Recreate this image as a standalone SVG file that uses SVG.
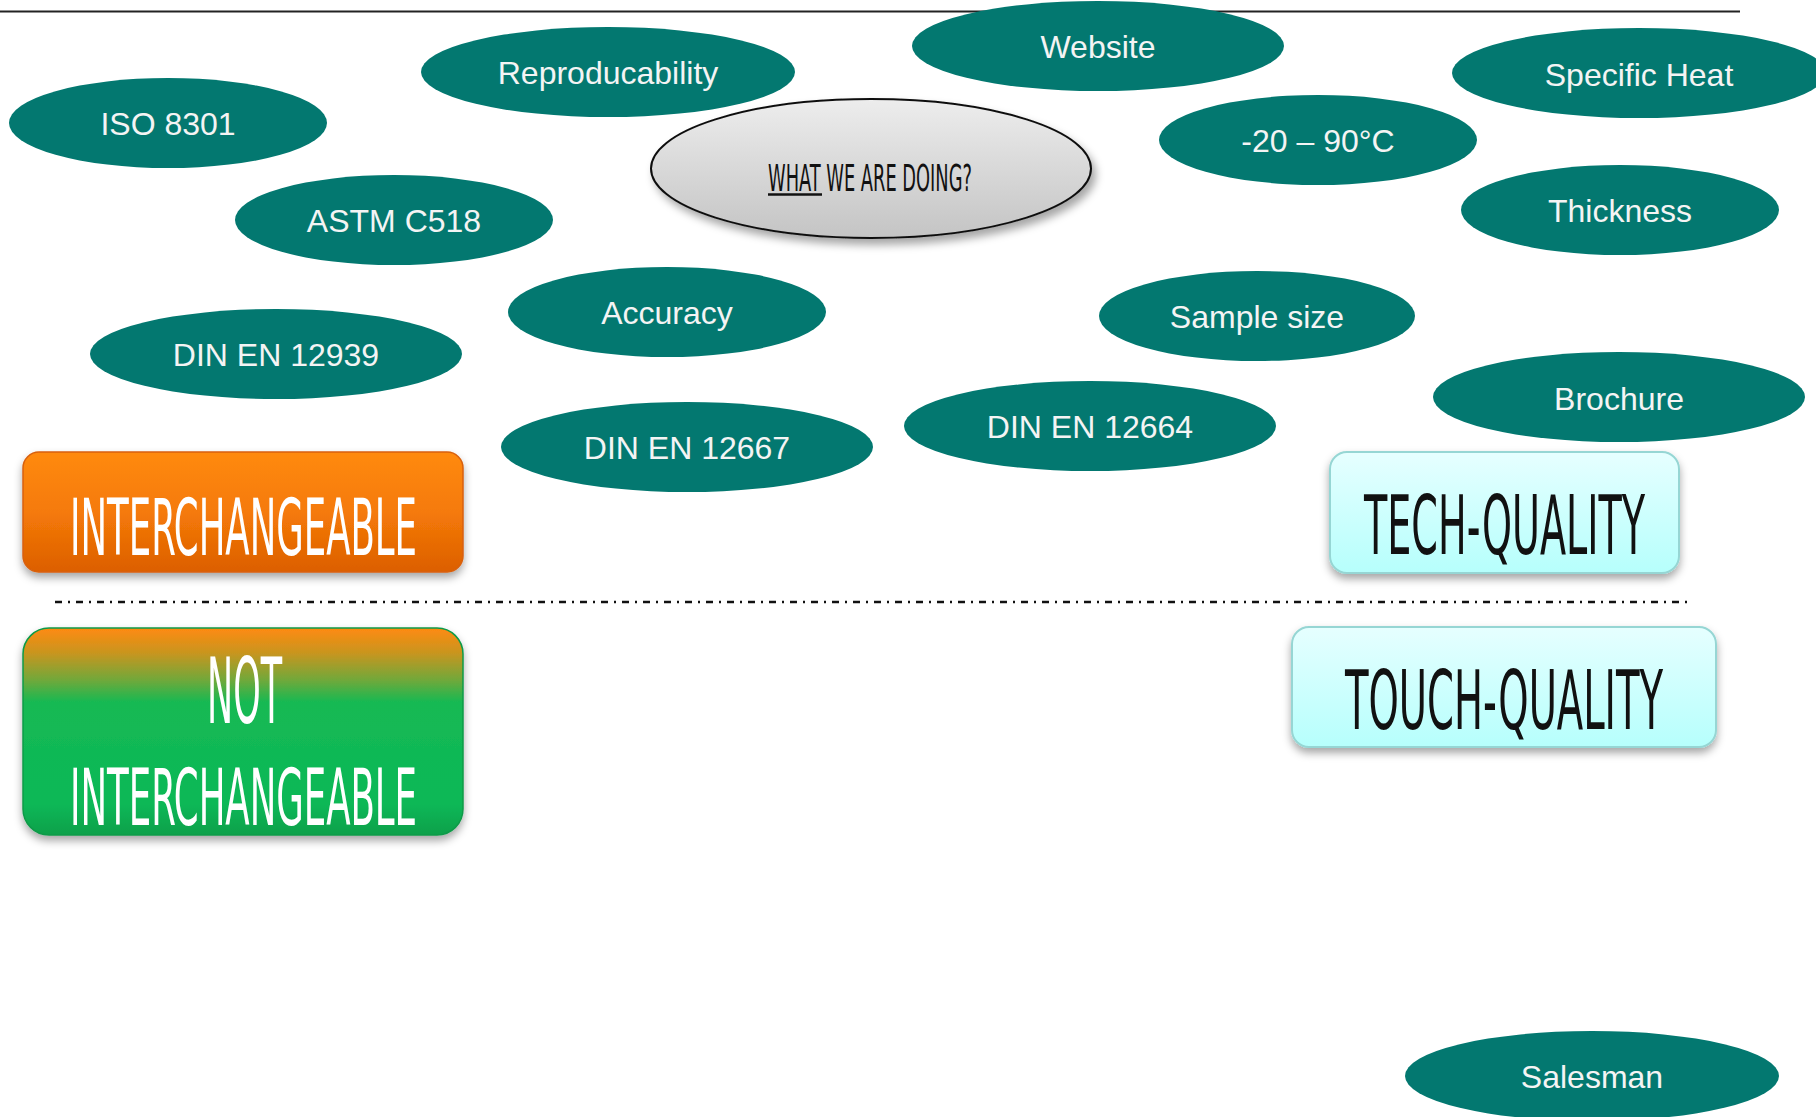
<svg xmlns="http://www.w3.org/2000/svg" width="1816" height="1117" viewBox="0 0 1816 1117">
  <style>
    .topic { fill: #037870; }
    .topic-label { font-family: "Liberation Sans", Arial, sans-serif; font-size: 32px; fill: #F4F4F4; text-anchor: middle; }
    .hand { font-family: "Liberation Sans Narrow", "DejaVu Sans Condensed", "Liberation Sans", sans-serif; }
    .hand-white { fill: #FFFFFF; }
    .hand-black { fill: #111111; }
    .centered { text-anchor: middle; }
    .rule { stroke: #222222; stroke-width: 2; fill: none; }
    .divider { stroke: #111111; stroke-width: 2.5; fill: none; stroke-dasharray: 7 6 2 6; }
  </style>
  <defs>
    <linearGradient id="gOrange" x1="0" y1="0" x2="0" y2="1">
      <stop offset="0" stop-color="#FF8A10"/>
      <stop offset="0.5" stop-color="#F57A08"/>
      <stop offset="1" stop-color="#DC5F02"/>
    </linearGradient>
    <linearGradient id="gGreen" x1="0" y1="0" x2="0" y2="1">
      <stop offset="0" stop-color="#FF8A10"/>
      <stop offset="0.12" stop-color="#C9951F"/>
      <stop offset="0.25" stop-color="#72A83A"/>
      <stop offset="0.36" stop-color="#15B953"/>
      <stop offset="0.85" stop-color="#0CB857"/>
      <stop offset="1" stop-color="#0AA04A"/>
    </linearGradient>
    <linearGradient id="gCyan" x1="0" y1="0" x2="0" y2="1">
      <stop offset="0" stop-color="#E6FFFF"/>
      <stop offset="1" stop-color="#B6FFFC"/>
    </linearGradient>
    <linearGradient id="gGrey" x1="0" y1="0" x2="0" y2="1">
      <stop offset="0" stop-color="#EDEDED"/>
      <stop offset="1" stop-color="#C4C4C4"/>
    </linearGradient>
    <filter id="boxShadow" x="-10%" y="-20%" width="120%" height="150%">
      <feDropShadow dx="0" dy="5" stdDeviation="4" flood-color="#000000" flood-opacity="0.35"/>
    </filter>
    <filter id="ovalShadow" x="-10%" y="-20%" width="125%" height="150%">
      <feDropShadow dx="4" dy="6" stdDeviation="4" flood-color="#000000" flood-opacity="0.35"/>
    </filter>
  </defs>

  <!-- header rule and section divider -->
  <line class="rule" x1="0" y1="11.5" x2="1740" y2="11.5"/>
  <line class="divider" x1="55" y1="602" x2="1690" y2="602"/>

  <!-- teal topic ovals -->
  <g id="iso8301"><ellipse class="topic" cx="168" cy="123" rx="159" ry="45"/><text class="topic-label" x="168" y="135">ISO 8301</text></g>
  <g id="reproducability"><ellipse class="topic" cx="608" cy="72" rx="187" ry="45"/><text class="topic-label" x="608" y="84">Reproducability</text></g>
  <g id="astm-c518"><ellipse class="topic" cx="394" cy="220" rx="159" ry="45"/><text class="topic-label" x="394" y="232">ASTM C518</text></g>
  <g id="website"><ellipse class="topic" cx="1098" cy="46" rx="186" ry="45"/><text class="topic-label" x="1098" y="58">Website</text></g>
  <g id="specific-heat"><ellipse class="topic" cx="1639" cy="73" rx="187" ry="45"/><text class="topic-label" x="1639" y="86">Specific Heat</text></g>
  <g id="temp-range"><ellipse class="topic" cx="1318" cy="140" rx="159" ry="45"/><text class="topic-label" x="1318" y="152">-20 – 90°C</text></g>
  <g id="thickness"><ellipse class="topic" cx="1620" cy="210" rx="159" ry="45"/><text class="topic-label" x="1620" y="222">Thickness</text></g>
  <g id="accuracy"><ellipse class="topic" cx="667" cy="312" rx="159" ry="45"/><text class="topic-label" x="667" y="324">Accuracy</text></g>
  <g id="sample-size"><ellipse class="topic" cx="1257" cy="316" rx="158" ry="45"/><text class="topic-label" x="1257" y="328">Sample size</text></g>
  <g id="din-en-12939"><ellipse class="topic" cx="276" cy="354" rx="186" ry="45"/><text class="topic-label" x="276" y="366">DIN EN 12939</text></g>
  <g id="din-en-12667"><ellipse class="topic" cx="687" cy="447" rx="186" ry="45"/><text class="topic-label" x="687" y="459">DIN EN 12667</text></g>
  <g id="din-en-12664"><ellipse class="topic" cx="1090" cy="426" rx="186" ry="45"/><text class="topic-label" x="1090" y="438">DIN EN 12664</text></g>
  <g id="brochure"><ellipse class="topic" cx="1619" cy="397" rx="186" ry="45"/><text class="topic-label" x="1619" y="410">Brochure</text></g>
  <g id="salesman"><ellipse class="topic" cx="1592" cy="1076" rx="187" ry="45"/><text class="topic-label" x="1592" y="1088">Salesman</text></g>

  <!-- central question -->
  <g id="what-we-are-doing">
    <ellipse cx="871" cy="168.5" rx="220" ry="69.5" fill="url(#gGrey)" stroke="#111111" stroke-width="2" filter="url(#ovalShadow)"/>
    <text class="hand hand-black" x="768" y="191" font-size="38" textLength="204" lengthAdjust="spacingAndGlyphs">WHAT WE ARE DOING?</text>
    <line x1="768" y1="194.5" x2="822" y2="194.5" stroke="#111111" stroke-width="2.5"/>
  </g>

  <!-- category boxes -->
  <g id="interchangeable">
    <rect x="23" y="452" width="440" height="120" rx="16" fill="url(#gOrange)" stroke="#D8600A" stroke-width="1.5" filter="url(#boxShadow)"/>
    <text class="hand hand-white" x="70" y="555" font-size="78" textLength="347" lengthAdjust="spacingAndGlyphs">INTERCHANGEABLE</text>
  </g>
  <g id="not-interchangeable">
    <rect x="23" y="628" width="440" height="207" rx="26" fill="url(#gGreen)" stroke="#0E9A48" stroke-width="1.5" filter="url(#boxShadow)"/>
    <text class="hand hand-white" x="207" y="723" textLength="75" lengthAdjust="spacingAndGlyphs" font-size="90">NOT</text>
    <text class="hand hand-white" x="70" y="825" font-size="79" textLength="347" lengthAdjust="spacingAndGlyphs">INTERCHANGEABLE</text>
  </g>
  <g id="tech-quality">
    <rect x="1330" y="452" width="349" height="121" rx="17" fill="url(#gCyan)" stroke="#96D6D4" stroke-width="2" filter="url(#boxShadow)"/>
    <text class="hand hand-black centered" x="1504.5" y="554" font-size="82" textLength="281" lengthAdjust="spacingAndGlyphs">TECH-QUALITY</text>
  </g>
  <g id="touch-quality">
    <rect x="1292" y="627" width="424" height="120" rx="17" fill="url(#gCyan)" stroke="#96D6D4" stroke-width="2" filter="url(#boxShadow)"/>
    <text class="hand hand-black centered" x="1504" y="729" font-size="82" textLength="318" lengthAdjust="spacingAndGlyphs">TOUCH-QUALITY</text>
  </g>
</svg>
